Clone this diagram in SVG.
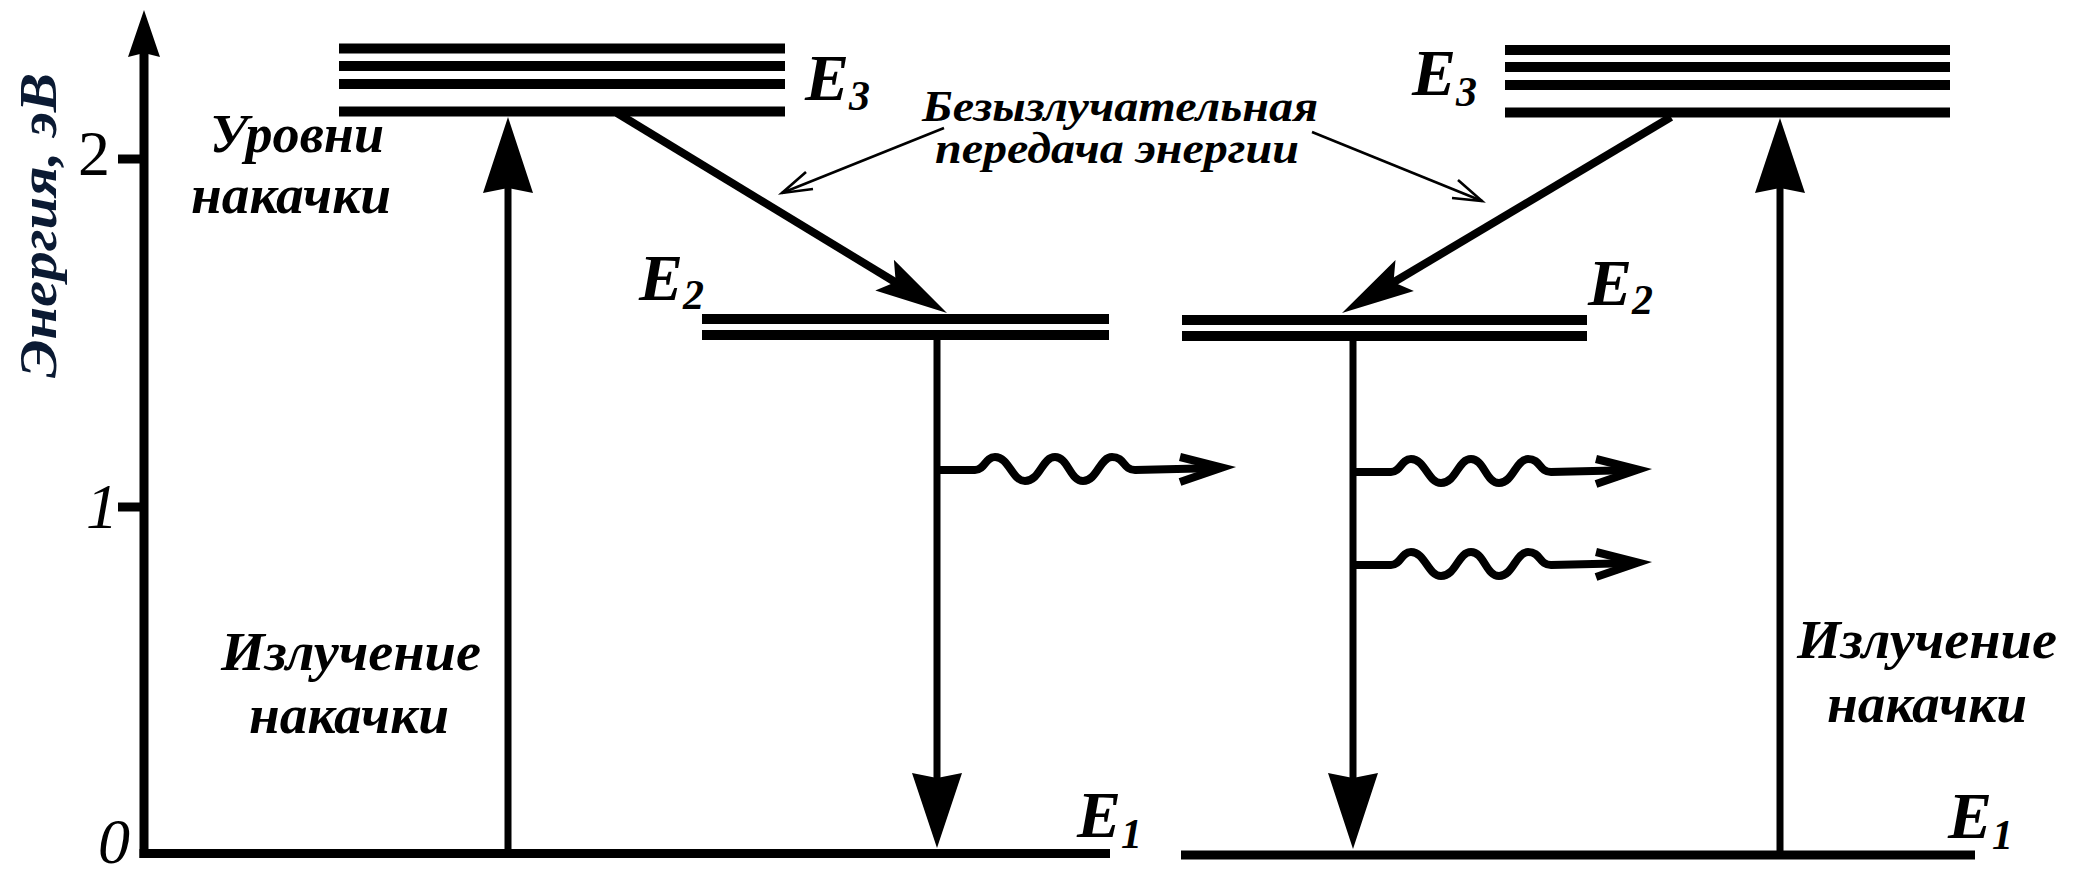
<svg xmlns="http://www.w3.org/2000/svg" xmlns:xlink="http://www.w3.org/1999/xlink" width="2090" height="884" viewBox="0 0 2090 884">
<style>
.lv{stroke:#000;stroke-width:10;fill:none}
.ax{stroke:#000;stroke-width:9;fill:none}
.ar{stroke:#000;stroke-width:7;fill:none}
.dg{stroke:#000;stroke-width:8;fill:none}
.thin{stroke:#000;stroke-width:2.6;fill:none}
.head{fill:#000;stroke:none}
.lbl{font-weight:bold;font-style:italic;font-size:55px;fill:#000}
.lbl2{font-weight:bold;font-style:italic;font-size:44px;fill:#000}
.en{font-weight:bold;font-style:italic;font-size:66px;fill:#000}
.sub{font-size:42px}
.tick{font-size:64px;fill:#000}
.ylab{font-weight:bold;font-style:italic;font-size:53px;fill:#0b1a33}
</style>
<defs>
<g id="photon">
<path d="M0,0 L38,0 C48,0 48,-13 58,-13 C72,-13 75,11 88,11 C103,11 105,-13 118,-13 C131,-13 133,11 146,11 C160,11 163,-13 175,-13 C188,-13 186,0 198,0 L282,-2" stroke="#000" stroke-width="8" fill="none"/>
<polyline points="243,-13 285,-2.5 243,12" stroke="#000" stroke-width="8" fill="none" stroke-miterlimit="10"/>
</g>
</defs>
<g font-family="Liberation Serif, Times New Roman, serif">

<g id="axis">
<line class="ax" x1="144" y1="858" x2="144" y2="50"/>
<polygon class="head" points="144,10 160,57 144,53 128,57"/>
<line class="ax" x1="118" y1="159" x2="144" y2="159"/>
<line class="ax" x1="118" y1="507" x2="144" y2="507"/>
<text class="tick" x="78" y="175">2</text>
<text class="tick" x="86" y="528" font-style="italic">1</text>
<text class="tick" x="98" y="863" font-style="italic">0</text>
<text class="ylab" transform="translate(56,378) rotate(-90)" textLength="305" lengthAdjust="spacingAndGlyphs">Энергия, эВ</text>
</g>

<g id="E3-left">
<line class="lv" x1="339" y1="48.5" x2="785" y2="48.5"/>
<line class="lv" x1="339" y1="66" x2="785" y2="66"/>
<line class="lv" x1="339" y1="84" x2="785" y2="84"/>
<line class="lv" x1="339" y1="111.5" x2="785" y2="111.5"/>
<text class="en" x="805" y="100">E<tspan class="sub" dy="10">3</tspan></text>
</g>

<g id="pump-levels-label">
<text class="lbl" x="210" y="152" textLength="174" lengthAdjust="spacingAndGlyphs">Уровни</text>
<text class="lbl" x="191" y="213" textLength="200" lengthAdjust="spacingAndGlyphs">накачки</text>
</g>

<g id="E2-left">
<line class="lv" x1="702" y1="319" x2="1109" y2="319"/>
<line class="lv" x1="702" y1="335" x2="1109" y2="335"/>
<text class="en" x="639" y="300">E<tspan class="sub" dy="9">2</tspan></text>
</g>

<g id="E1-left">
<line class="ax" x1="139.5" y1="853.5" x2="1110" y2="853.5"/>
<text class="en" x="1077" y="837">E<tspan class="sub" dy="11">1</tspan></text>
</g>

<g id="E3-right">
<line class="lv" x1="1505" y1="50" x2="1950" y2="50"/>
<line class="lv" x1="1505" y1="67" x2="1950" y2="67"/>
<line class="lv" x1="1505" y1="85" x2="1950" y2="85"/>
<line class="lv" x1="1505" y1="112.5" x2="1950" y2="112.5"/>
<text class="en" x="1412" y="95">E<tspan class="sub" dy="11">3</tspan></text>
</g>

<g id="E2-right">
<line class="lv" x1="1182" y1="320" x2="1587" y2="320"/>
<line class="lv" x1="1182" y1="336" x2="1587" y2="336"/>
<text class="en" x="1588" y="305">E<tspan class="sub" dy="9">2</tspan></text>
</g>

<g id="E1-right">
<line class="ax" x1="1181" y1="855" x2="1975" y2="855"/>
<text class="en" x="1948" y="838">E<tspan class="sub" dy="11">1</tspan></text>
</g>

<g id="pump-radiation-left">
<text class="lbl" x="221" y="670" textLength="260" lengthAdjust="spacingAndGlyphs">Излучение</text>
<text class="lbl" x="249" y="733" textLength="200" lengthAdjust="spacingAndGlyphs">накачки</text>
</g>

<g id="pump-radiation-right">
<text class="lbl" x="1797" y="658" textLength="260" lengthAdjust="spacingAndGlyphs">Излучение</text>
<text class="lbl" x="1827" y="722" textLength="200" lengthAdjust="spacingAndGlyphs">накачки</text>
</g>

<g id="nonradiative-label">
<text class="lbl2" x="922" y="121" textLength="396" lengthAdjust="spacingAndGlyphs">Безызлучательная</text>
<text class="lbl2" x="935" y="163" textLength="364" lengthAdjust="spacingAndGlyphs">передача энергии</text>
</g>
</g>

<g id="connectors">
<line class="ar" x1="508" y1="853" x2="508" y2="185"/>
<polygon class="head" points="508,117 533,193 508,188 483,193"/>
<line class="ar" x1="1780" y1="855" x2="1780" y2="185"/>
<polygon class="head" points="1780,118 1805,193 1780,188 1755,193"/>
<line class="dg" x1="617" y1="113" x2="900" y2="285"/>
<polygon class="head" points="947,313 893.9,259.8 895.7,281.9 875.3,290.6"/>
<line class="dg" x1="1671" y1="117" x2="1389" y2="285"/>
<polygon class="head" points="1342,313 1395.5,260.1 1393.5,282.3 1413.9,291.1"/>
<line class="ar" x1="937" y1="340" x2="937" y2="780"/>
<polygon class="head" points="937,848 962,773 937,778 912,773"/>
<line class="ar" x1="1353" y1="341" x2="1353" y2="780"/>
<polygon class="head" points="1353,849 1378,773 1353,778 1328,773"/>
<use xlink:href="#photon" transform="translate(937,470)"/>
<use xlink:href="#photon" transform="translate(1353,472)"/>
<use xlink:href="#photon" transform="translate(1353,565)"/>
<line class="thin" x1="944" y1="128" x2="782" y2="193"/>
<polyline class="thin" points="806,172 782,193 813,189"/>
<line class="thin" x1="1312" y1="132" x2="1482" y2="201"/>
<polyline class="thin" points="1458,180 1482,201 1452,198"/>
</g>
</svg>
